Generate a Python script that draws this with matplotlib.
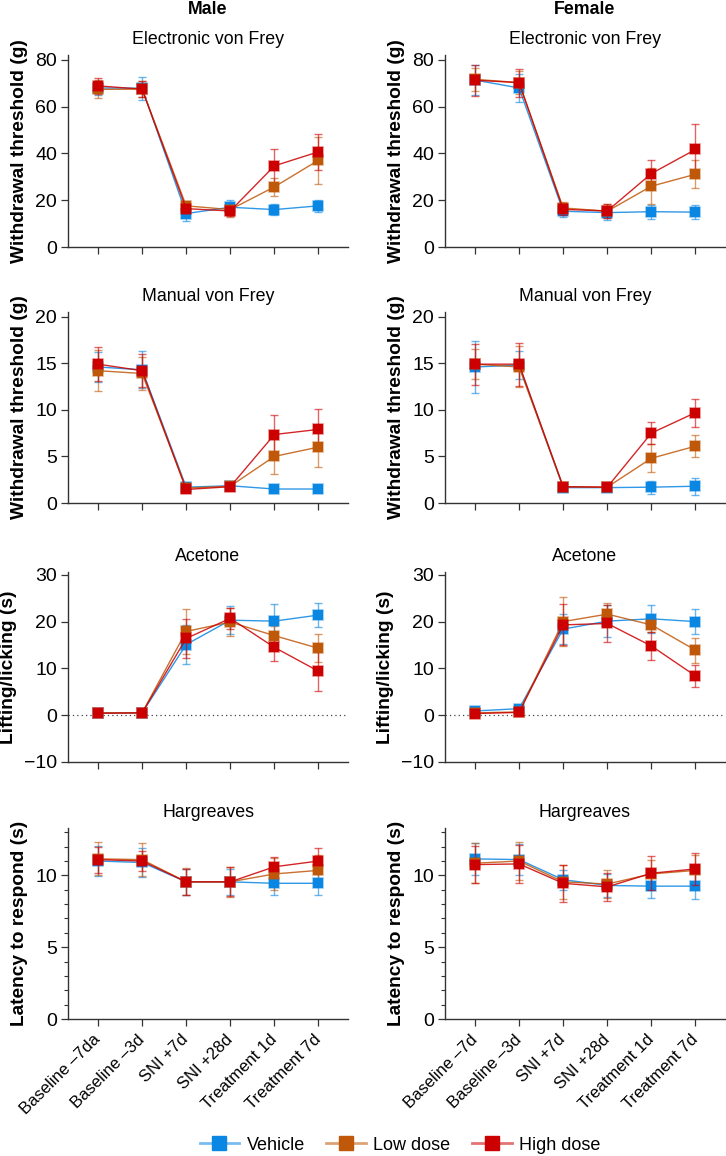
import matplotlib
matplotlib.use("Agg")
import matplotlib.pyplot as plt
from matplotlib.lines import Line2D
from matplotlib.ticker import MultipleLocator
import numpy as np

plt.rcParams['font.family'] = ['Liberation Sans', 'DejaVu Sans']

# ---------------- data ----------------
groups = ["Vehicle", "Low dose", "High dose"]
colors = ["#0A86E3", "#C0580A", "#CC0000"]

xlabels_male = ["Baseline \u20137da", "Baseline \u20133d", "SNI +7d", "SNI +28d", "Treatment 1d", "Treatment 7d"]
xlabels_female = ["Baseline \u20137d", "Baseline \u20133d", "SNI +7d", "SNI +28d", "Treatment 1d", "Treatment 7d"]

# Electronic von Frey
evf_m_mean = [[68.0, 67.9, 14.3, 17.0, 16.0, 17.6],
              [67.4, 67.5, 17.6, 16.0, 25.7, 37.1],
              [68.9, 67.5, 16.4, 15.4, 34.7, 40.7]]
evf_m_err = [[3.0, 5.0, 3.0, 3.0, 2.5, 2.5],
             [3.8, 3.5, 2.0, 3.0, 3.7, 10.0],
             [3.5, 3.5, 2.0, 2.0, 7.4, 7.6]]
evf_f_mean = [[71.4, 68.0, 15.3, 14.7, 15.1, 14.9],
              [71.7, 70.3, 16.7, 15.3, 26.0, 31.1],
              [71.3, 70.3, 16.1, 15.4, 31.4, 41.7]]
evf_f_err = [[6.5, 6.0, 2.5, 3.0, 3.0, 3.0],
             [5.0, 5.0, 2.5, 3.0, 7.7, 6.0],
             [6.6, 6.0, 2.5, 3.0, 5.7, 10.9]]

# Manual von Frey
mvf_m_mean = [[14.6, 14.3, 1.7, 1.85, 1.5, 1.5],
              [14.2, 13.9, 1.6, 1.8, 5.0, 6.0],
              [14.9, 14.2, 1.45, 1.75, 7.35, 7.9]]
mvf_m_err = [[1.65, 2.0, 0.3, 0.4, 0.4, 0.2],
             [2.2, 1.8, 0.3, 0.4, 1.9, 2.1],
             [1.8, 1.8, 0.3, 0.4, 2.05, 2.2]]
mvf_f_mean = [[14.6, 14.8, 1.65, 1.65, 1.7, 1.8],
              [14.9, 14.6, 1.75, 1.7, 4.8, 6.1],
              [14.9, 14.9, 1.75, 1.7, 7.5, 9.7]]
mvf_f_err = [[2.8, 1.5, 0.2, 0.2, 0.7, 0.9],
             [1.6, 2.2, 0.2, 0.2, 1.5, 1.2],
             [2.2, 2.3, 0.2, 0.2, 1.2, 1.5]]

# Acetone
ace_m_mean = [[0.5, 0.5, 15.1, 20.3, 20.1, 21.4],
              [0.5, 0.5, 17.9, 19.9, 17.0, 14.3],
              [0.4, 0.5, 16.4, 20.7, 14.5, 9.4]]
ace_m_err = [[0.3, 0.3, 4.1, 3.0, 3.6, 2.5],
             [0.3, 0.3, 4.8, 3.0, 2.0, 3.0],
             [0.3, 0.3, 4.2, 2.3, 2.9, 4.2]]
ace_f_mean = [[0.9, 1.4, 18.4, 20.1, 20.6, 20.0],
              [0.5, 0.7, 20.0, 21.6, 19.3, 13.9],
              [0.35, 0.6, 19.3, 19.6, 14.8, 8.4]]
ace_f_err = [[0.3, 0.3, 3.2, 3.4, 3.0, 2.7],
             [0.3, 0.3, 5.3, 2.4, 1.6, 2.7],
             [0.3, 0.3, 4.4, 3.9, 3.0, 2.3]]

# Hargreaves
har_m_mean = [[11.0, 10.9, 9.55, 9.55, 9.45, 9.45],
              [11.15, 11.1, 9.55, 9.55, 10.1, 10.35],
              [11.1, 11.0, 9.55, 9.55, 10.6, 11.0]]
har_m_err = [[1.05, 1.0, 0.9, 0.9, 0.8, 0.8],
             [1.15, 1.15, 0.95, 1.05, 1.1, 1.1],
             [0.9, 0.7, 0.9, 1.0, 0.7, 0.9]]
har_f_mean = [[11.15, 11.1, 9.7, 9.3, 9.25, 9.25],
              [10.85, 11.0, 9.55, 9.4, 10.1, 10.35],
              [10.75, 10.8, 9.45, 9.2, 10.15, 10.45]]
har_f_err = [[1.1, 1.1, 0.7, 0.8, 0.8, 0.9],
             [1.4, 1.3, 1.2, 1.0, 1.0, 1.1],
             [1.3, 1.3, 1.3, 1.0, 1.2, 1.1]]

titles = ["Electronic von Frey", "Manual von Frey", "Acetone", "Hargreaves"]
ylabels = ["Withdrawal threshold (g)", "Withdrawal threshold (g)", "Lifting/licking (s)", "Latency to respond (s)"]
ylims = [(0, 82.1), (0, 20.5), (-10, 30.6), (0, 13.3)]
yticks = [[0, 20, 40, 60, 80], [0, 5, 10, 15, 20], [-10, 0, 10, 20, 30], [0, 5, 10]]
data = [[(evf_m_mean, evf_m_err), (evf_f_mean, evf_f_err)],
        [(mvf_m_mean, mvf_m_err), (mvf_f_mean, mvf_f_err)],
        [(ace_m_mean, ace_m_err), (ace_f_mean, ace_f_err)],
        [(har_m_mean, har_m_err), (har_f_mean, har_f_err)]]

# ---------------- layout ----------------
W, H = 726, 1156
fig = plt.figure(figsize=(W / 100, H / 100), dpi=100)

col_x = [(68, 348), (445, 725)]
row_y = [(55, 247), (312, 503), (572, 762), (828, 1019)]

x = np.arange(6)

for r in range(4):
    for c in range(2):
        x0, x1 = col_x[c]
        y0, y1 = row_y[r]
        ax = fig.add_axes([x0 / W, 1 - y1 / H, (x1 - x0) / W, (y1 - y0) / H])
        means, errs = data[r][c]
        for g in range(3):
            ax.errorbar(x, means[g], yerr=errs[g], color=colors[g], ecolor=colors[g],
                        elinewidth=1.0, capsize=3, capthick=1.0, lw=0, marker=None,
                        alpha=0.6, zorder=2 + g)
            ax.plot(x, means[g], color=colors[g], lw=1.0, alpha=0.85, zorder=3 + g)
            ax.plot(x, means[g], ls='none', marker='s', ms=7, color=colors[g],
                    mec=matplotlib.colors.to_rgba(colors[g], 0.45), mew=1.2, zorder=4 + g)
        ax.set_xlim(-0.68, 5.67)
        ax.set_ylim(*ylims[r])
        ax.set_yticks(yticks[r])
        if r == 3:
            ax.yaxis.set_minor_locator(MultipleLocator(1))
            ax.tick_params(axis='y', which='minor', length=3, width=0.8, color='#333333')
        if r == 2:
            ax.axhline(0, color='#444444', lw=0.9, ls=(0, (1, 2.5)), zorder=1)
        ax.set_yticklabels(["\u2212" + str(-t) if t < 0 else str(t) for t in yticks[r]])
        ax.set_xticks(x)
        if r == 3:
            ax.set_xticklabels(xlabels_male if c == 0 else xlabels_female, rotation=45,
                               ha='right', va='center', rotation_mode='anchor', fontsize=12)
        else:
            ax.set_xticklabels([])
        for s in ['top', 'right']:
            ax.spines[s].set_visible(False)
        for s in ['left', 'bottom']:
            ax.spines[s].set_color('#333333')
            ax.spines[s].set_linewidth(1.0)
        ax.tick_params(axis='both', which='major', length=5, width=0.9, color='#333333',
                       labelsize=14, direction='out', pad=3)
        ax.tick_params(axis='x', labelsize=12, pad=8)
        ax.set_title(titles[r], fontsize=12.8, pad=8)
        ax.set_ylabel(ylabels[r], fontsize=13.8, fontweight='bold', labelpad=5)
        if r == 0:
            ax.text(0.5, 1.0 + 45 / (y1 - y0), "Male" if c == 0 else "Female",
                    transform=ax.transAxes, ha='center', va='center',
                    fontsize=12.8, fontweight='bold')

handles = [Line2D([0], [0], color=matplotlib.colors.to_rgba(colors[g], 0.55), lw=2,
                  marker='s', ms=10, mfc=colors[g], mec=colors[g]) for g in range(3)]
fig.legend(handles, groups, loc='center', bbox_to_anchor=(400 / W, 1 - 1145 / H),
           ncol=3, frameon=False, fontsize=13, handlelength=2.2, columnspacing=1.2,
           handletextpad=0.4)

fig.savefig("out.png", dpi=100)
